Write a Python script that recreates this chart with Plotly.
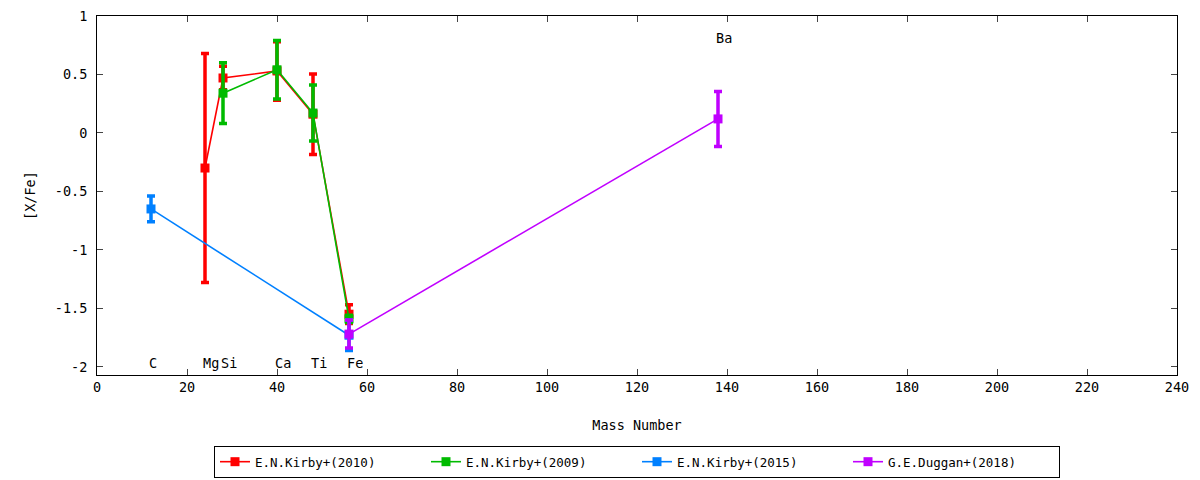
import plotly.graph_objects as go

# Kirby+2010 (red)
k10_x = [24, 28, 40, 48, 56]
k10_y = [-0.30, 0.47, 0.53, 0.16, -1.55]
k10_err = [0.98, 0.10, 0.25, 0.345, 0.08]
# Kirby+2009 (green)
k09_x = [28, 40, 48, 56]
k09_y = [0.34, 0.54, 0.17, -1.59]
k09_err = [0.26, 0.25, 0.24, 0.03]
# Kirby+2015 (blue)
k15_x = [12, 56]
k15_y = [-0.65, -1.73]
k15_err = [0.11, 0.13]
# Duggan+2018 (purple)
d18_x = [56, 138]
d18_y = [-1.72, 0.12]
d18_err = [0.12, 0.235]

elem_names = ["C", "Mg", "Si", "Ca", "Ti", "Fe", "Ba"]
elem_x = [12, 24, 28, 40, 48, 56, 138]
elem_y = [-1.965, -1.965, -1.965, -1.965, -1.965, -1.965, 0.81]

xticks = [0, 20, 40, 60, 80, 100, 120, 140, 160, 180, 200, 220, 240]
yticks = [1, 0.5, 0, -0.5, -1, -1.5, -2]
yticklabels = ["1", "0.5", "0", "-0.5", "-1", "-1.5", "-2"]

FONT = "DejaVu Sans Mono"
FS = 13.5

series = [
    ("E.N.Kirby+(2010)", k10_x, k10_y, k10_err, "#ff0000"),
    ("E.N.Kirby+(2009)", k09_x, k09_y, k09_err, "#00bb00"),
    ("E.N.Kirby+(2015)", k15_x, k15_y, k15_err, "#0080ff"),
    ("G.E.Duggan+(2018)", d18_x, d18_y, d18_err, "#c000ff"),
]

fig = go.Figure()
for name, xs, ys, es, col in series:
    fig.add_trace(go.Scatter(
        x=xs, y=ys, name=name, mode="lines+markers",
        line=dict(color=col, width=1.6),
        marker=dict(symbol="square", size=9, color=col),
        error_y=dict(type="data", array=es, visible=True, color=col,
                     thickness=3.5, width=4),
    ))

for n, x, y in zip(elem_names, elem_x, elem_y):
    fig.add_annotation(x=x, y=y, text=n, showarrow=False,
                       xanchor="left", xshift=-4,
                       font=dict(family=FONT, size=FS, color="black"))

# page body has an 8px margin; compensate so the plot lands where it should
fig.update_layout(
    width=1192, height=472,
    paper_bgcolor="white", plot_bgcolor="white",
    margin=dict(l=89, r=23, t=8, b=105, autoexpand=False),
    font=dict(family=FONT, size=FS, color="black"),
    showlegend=True,
    legend=dict(orientation="h", x=(214 - 97) / 1080, xanchor="left",
                y=-0.2425, yanchor="middle",
                bordercolor="black", borderwidth=1, entrywidth=166,
                font=dict(family=FONT, size=12.5)),
)
fig.update_xaxes(range=[0, 240], tickvals=xticks, ticks="inside", ticklen=6,
                 tickfont=dict(family=FONT, size=FS), ticklabeloverflow="allow",
                 showline=True, linecolor="black", linewidth=1, mirror="ticks",
                 showgrid=False, zeroline=False,
                 title=dict(text="Mass Number", standoff=26,
                            font=dict(family=FONT, size=FS)))
fig.update_yaxes(range=[-2.07, 1], tickvals=yticks, ticktext=yticklabels,
                 ticks="inside", ticklen=6, ticklabelstandoff=6,
                 tickfont=dict(family=FONT, size=FS), ticklabeloverflow="allow",
                 showline=True, linecolor="black", linewidth=1, mirror="ticks",
                 showgrid=False, zeroline=False,
                 title=dict(text="[X/Fe]", standoff=16,
                            font=dict(family=FONT, size=FS)))

fig.write_html("out.html")
